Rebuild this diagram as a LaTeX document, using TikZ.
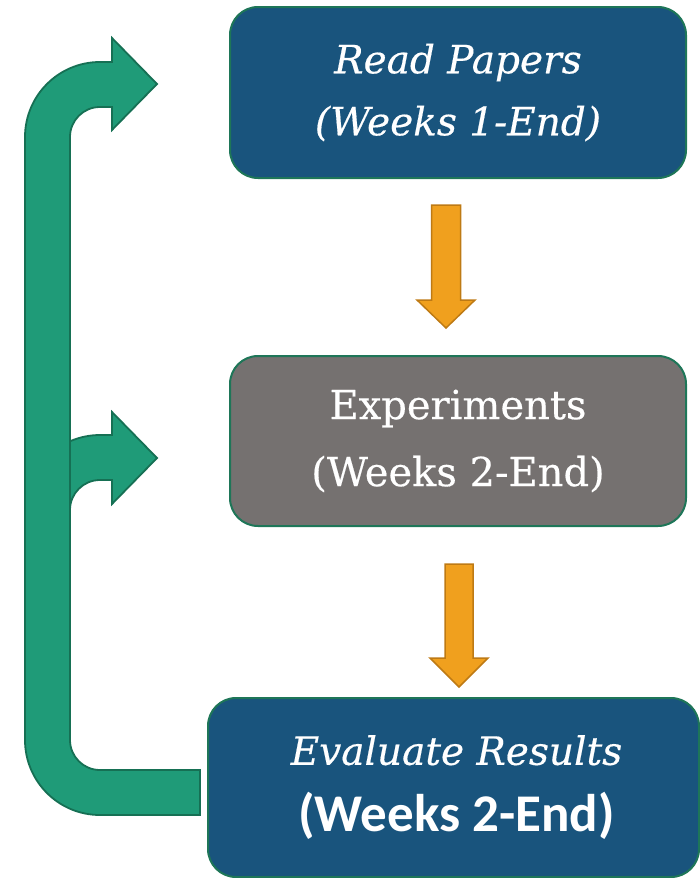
\documentclass[tikz,border=0pt]{standalone}
\usepackage{fontspec}
\setmainfont{DejaVu Serif}[FakeBold=0.4]
\newfontfamily\boldsans{Carlito}
\definecolor{boxblue}{RGB}{25,84,125}
\definecolor{boxgray}{RGB}{117,113,112}
\definecolor{boxedge}{RGB}{30,118,88}
\definecolor{arrowgreen}{RGB}{31,155,120}
\definecolor{arrowedge}{RGB}{22,112,84}
\definecolor{orangefill}{RGB}{240,160,30}
\definecolor{orangeedge}{RGB}{190,122,20}
\begin{document}
\begin{tikzpicture}[x=1pt,y=-1pt,
  box/.style={rounded corners=28pt, draw=boxedge, line width=2pt, text=white, align=center, inner sep=0pt},
  greenshape/.style={fill=arrowgreen, draw=arrowedge, line width=1.8pt, line join=miter},
  orangeshape/.style={fill=orangefill, draw=orangeedge, line width=1.5pt, line join=miter}]
\useasboundingbox (0,0) rectangle (700,878);

% boxes
\node[box, fill=boxblue, minimum width=456pt, minimum height=171pt,
      font=\fontsize{39}{62}\selectfont\itshape] (rp) at (458,92.5) {Read Papers\\(Weeks 1-End)};
\node[box, fill=boxgray, minimum width=456pt, minimum height=170pt,
      font=\fontsize{40}{67}\selectfont] (ex) at (458,441) {Experiments\\(Weeks 2-End)};
\node[box, fill=boxblue, minimum width=491pt, minimum height=179pt,
      font=\fontsize{39}{67}\selectfont] (ev) at (453.5,787.5) {\hspace*{6pt}{\itshape Evaluate Results}\\\hspace*{6pt}{\fontsize{53}{67}\selectfont\boldsans\bfseries (Weeks 2-End)}};

% orange arrows
\draw[orangeshape] (431.5,205) -- (460.5,205) -- (460.5,300) -- (475,300) -- (446,328) -- (417,300) -- (431.5,300) -- cycle;
\draw[orangeshape] (445,564) -- (473,564) -- (473,658) -- (488,658) -- (459,687) -- (430,658) -- (445,658) -- cycle;

% green feedback arrows
\draw[greenshape] (70,510) arc[start angle=180,end angle=270,radius=30] -- (112,480) -- (112,504) -- (157,458) -- (112,412) -- (112,435) -- (100,435) arc[start angle=270,end angle=246.4,radius=75] -- cycle;
\draw[greenshape] (200,770) -- (100,770) arc[start angle=90,end angle=180,radius=30] -- (70,137) arc[start angle=180,end angle=270,radius=30] -- (112,107) -- (112,130) -- (157,84) -- (112,38) -- (112,62) -- (100,62) arc[start angle=270,end angle=180,radius=75] -- (25,740) arc[start angle=180,end angle=90,radius=75] -- (200,815) -- cycle;
\end{tikzpicture}
\end{document}
